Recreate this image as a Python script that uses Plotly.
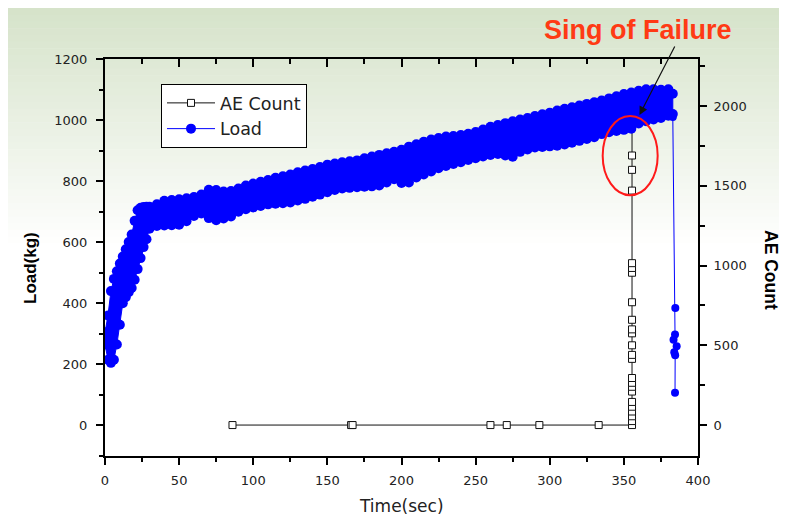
import plotly.graph_objects as go

# ---------------- data ----------------
# Load (kg): envelope of the dense noisy load record (marker centres)
load_t = [0, 2, 4, 6, 8, 10, 12, 14, 16, 18, 20, 22, 24, 26, 28,
          30, 35, 40, 45, 50, 55, 60, 65, 70, 75, 80, 85, 90, 95, 100,
          105, 110, 115, 120, 125, 130, 135, 140, 145, 150, 155, 160, 165, 170, 175,
          180, 185, 190, 195, 200, 205, 210, 215, 220, 225, 230, 235, 240, 245, 250,
          255, 260, 265, 270, 275, 280, 285, 290, 295, 300, 305, 310, 315, 320, 325,
          330, 335, 340, 345, 350, 355, 360, 365, 370, 375, 380, 383]
load_upper = [305, 360, 440, 480, 505, 530, 553, 577, 601, 625, 670, 705, 713, 715, 716,
              716, 724, 736, 738, 741, 744, 748, 756, 772, 771, 766, 768, 776, 786, 792,
              798, 804, 811, 816, 822, 829, 835, 840, 846, 854, 858, 862, 865, 868, 875,
              881, 886, 891, 896, 903, 913, 921, 929, 936, 941, 946, 948, 951, 955, 961,
              969, 978, 984, 990, 996, 1002, 1007, 1013, 1019, 1024, 1031, 1037, 1042, 1048, 1053,
              1058, 1064, 1071, 1078, 1085, 1090, 1096, 1101, 1101, 1099, 1101, 1086]
load_lower = [265, 215, 205, 215, 265, 330, 400, 420, 436, 450, 477, 512, 548, 584, 610,
              644, 653, 655, 656, 657, 669, 686, 694, 679, 672, 678, 684, 700, 708, 714,
              719, 724, 726, 728, 730, 737, 742, 749, 756, 764, 771, 776, 778, 780, 782,
              783, 786, 796, 806, 794, 796, 812, 822, 832, 842, 850, 856, 862, 869, 875,
              881, 886, 889, 884, 880, 896, 904, 910, 912, 914, 916, 920, 926, 932, 938,
              944, 954, 960, 964, 968, 972, 989, 996, 1002, 1007, 1014, 1020]
# Load after failure
tail_t = [383.0, 384.7, 384.5, 383.5, 385.6, 384.0, 384.6, 384.5]
tail_load = [1010, 385, 298, 281, 259, 240, 230, 107]

# AE Count
ae_t = [86, 166, 167, 260, 271, 293, 333,
        355.5, 355.5, 355.5, 355.5, 355.5, 355.5, 355.5, 355.5, 355.5, 355.5, 355.5, 355.5,
        355.5, 355.5, 355.5, 355.5, 355.5, 355.5, 355.5, 355.5, 355.5, 355.5, 355.5, 355.5]
ae_count = [0, 0, 0, 0, 0, 0, 0,
            0, 25, 55, 85, 115, 145, 210, 240, 265, 295, 415, 440,
            500, 575, 600, 660, 770, 955, 985, 1015, 1470, 1600, 1690, 1880]

x_ticks = [0, 50, 100, 150, 200, 250, 300, 350, 400]
load_ticks = [0, 200, 400, 600, 800, 1000, 1200]
ae_ticks = [0, 500, 1000, 1500, 2000]

# ---------------- geometry (page pixels; page body has an 8px margin) ----------------
W, H = 787, 517
PL, PT, PR, PB = 105, 59, 698, 456          # plot area in page pixels
OFF = 8
ML, MT = PL - OFF, PT - OFF
MR = W + OFF - PR
MB = H + OFF - PB
PW, PH = PR - PL, PB - PT

def px_x(px):
    return (px - PL) / PW

def px_y(py):
    return (PB - py) / PH

BLUE = "#0000ff"
TICKFONT = dict(family="DejaVu Sans", size=13, color="#222222")

fig = go.Figure()

# AE Count (primary y, on the right)
fig.add_trace(go.Scatter(
    x=ae_t, y=ae_count, name="AE Count", mode="lines+markers",
    xaxis="x", yaxis="y",
    line=dict(color="#111111", width=1),
    marker=dict(symbol="square", size=7, color="white", line=dict(color="#111111", width=1)),
))
# Load legend entry
fig.add_trace(go.Scatter(
    x=[None], y=[None], name="Load", mode="lines+markers",
    xaxis="x", yaxis="y2",
    line=dict(color=BLUE, width=1),
    marker=dict(symbol="circle", size=10, color=BLUE),
))
# Load band (upper edge forward, lower edge backward)
band_t = load_t + load_t[::-1]
band_load = load_upper + load_lower[::-1]
fig.add_trace(go.Scatter(
    x=band_t, y=band_load, mode="lines+markers", showlegend=False,
    xaxis="x", yaxis="y2", line=dict(color=BLUE, width=1), fill="toself", fillcolor=BLUE,
    marker=dict(symbol="circle", size=10, color=BLUE), hoverinfo="skip",
))
fig.add_trace(go.Scatter(
    x=tail_t, y=tail_load, mode="lines+markers", showlegend=False,
    xaxis="x", yaxis="y2", line=dict(color=BLUE, width=1),
    marker=dict(symbol="circle", size=8, color=BLUE),
))
# dummy trace holding the mirrored top axis
fig.add_trace(go.Scatter(
    x=[0], y=[0], mode="markers", showlegend=False, xaxis="x3", yaxis="y2",
    marker=dict(opacity=0), hoverinfo="skip",
))

# background gradient
shapes = []
top_c = (214, 227, 202)
N = 36
y_start, y_end = OFF, 250
for i in range(N):
    f = i / (N - 1)
    c = tuple(round(top_c[k] + (255 - top_c[k]) * f) for k in range(3))
    y0 = y_start + (y_end - y_start) * i / N
    y1 = y_start + (y_end - y_start) * (i + 1) / N + 0.5
    shapes.append(dict(type="rect", xref="paper", yref="paper", layer="below",
                       x0=px_x(OFF), x1=px_x(W + OFF), y0=px_y(y1), y1=px_y(y0),
                       fillcolor="rgb(%d,%d,%d)" % c, line=dict(width=0)))
# red ellipse around the sign of failure
shapes.append(dict(type="circle", xref="x", yref="y2",
                   x0=335.7, x1=372.8, y0=754, y1=1013,
                   line=dict(color="#ff1a1a", width=2), layer="above"))

axis_common = dict(showgrid=False, zeroline=False, showline=True, linecolor="black",
                   linewidth=2, tickcolor="black", tickwidth=1.5)

fig.update_layout(
    width=W, height=H,
    margin=dict(l=ML, r=MR, t=MT, b=MB, pad=0, autoexpand=False),
    paper_bgcolor="white", plot_bgcolor="rgba(0,0,0,0)",
    showlegend=True,
    legend=dict(x=px_x(161), y=px_y(84), xanchor="left", yanchor="top",
                bgcolor="white", bordercolor="black", borderwidth=1,
                font=dict(family="DejaVu Sans", size=17.5, color="#222222"),
                itemwidth=48, tracegroupgap=0, traceorder="normal"),
    xaxis=dict(range=[0, 400], tickvals=x_ticks, ticks="outside", ticklen=7,
               minor=dict(dtick=25, ticks="outside", ticklen=4, tickcolor="black", tickwidth=1.5),
               tickfont=TICKFONT, anchor="y", ticklabelstandoff=4, **axis_common),
    xaxis3=dict(range=[0, 400], tickvals=x_ticks, ticks="inside", ticklen=8,
                minor=dict(dtick=25, ticks="inside", ticklen=5, tickcolor="black", tickwidth=1.5),
                showticklabels=False, overlaying="x", side="top", anchor="y2", **axis_common),
    yaxis=dict(range=[-194, 2295], tickvals=ae_ticks, side="right", ticks="outside", ticklen=7,
               minor=dict(dtick=250, ticks="outside", ticklen=5, tickcolor="black", tickwidth=1.5),
               tickfont=TICKFONT, ticklabelstandoff=4, **axis_common),
    yaxis2=dict(range=[-100, 1200], tickvals=load_ticks, side="left", overlaying="y",
                ticks="outside", ticklen=7,
                minor=dict(dtick=100, ticks="outside", ticklen=4, tickcolor="black", tickwidth=1.5),
                tickfont=TICKFONT, ticklabelstandoff=6, **axis_common),
    shapes=shapes,
    annotations=[
        dict(text="Load(kg)", xref="paper", yref="paper", x=px_x(30), y=px_y(268),
             xanchor="center", yanchor="middle", textangle=-90, showarrow=False,
             font=dict(family="Liberation Sans", size=17, color="black", weight="bold")),
        dict(text="AE Count", xref="paper", yref="paper", x=px_x(771), y=px_y(270),
             xanchor="center", yanchor="middle", textangle=90, showarrow=False,
             font=dict(family="Liberation Sans", size=17.5, color="black", weight="bold")),
        dict(text="Time(sec)", xref="paper", yref="paper", x=px_x(401), y=px_y(506),
             xanchor="center", yanchor="middle", showarrow=False,
             font=dict(family="DejaVu Sans", size=17, color="#222222")),
        dict(text="Sing of Failure", xref="paper", yref="paper", x=px_x(638), y=px_y(30),
             xanchor="center", yanchor="middle", showarrow=False,
             font=dict(family="Liberation Sans", size=27, color="#ff3a14", weight="bold")),
        dict(text="", xref="paper", yref="paper", x=px_x(639.5), y=px_y(115),
             ax=36, ay=-70, axref="pixel", ayref="pixel", showarrow=True,
             arrowhead=2, arrowsize=1.4, arrowwidth=1.2, arrowcolor="#111111"),
    ],
)

fig.write_html("out.html")
